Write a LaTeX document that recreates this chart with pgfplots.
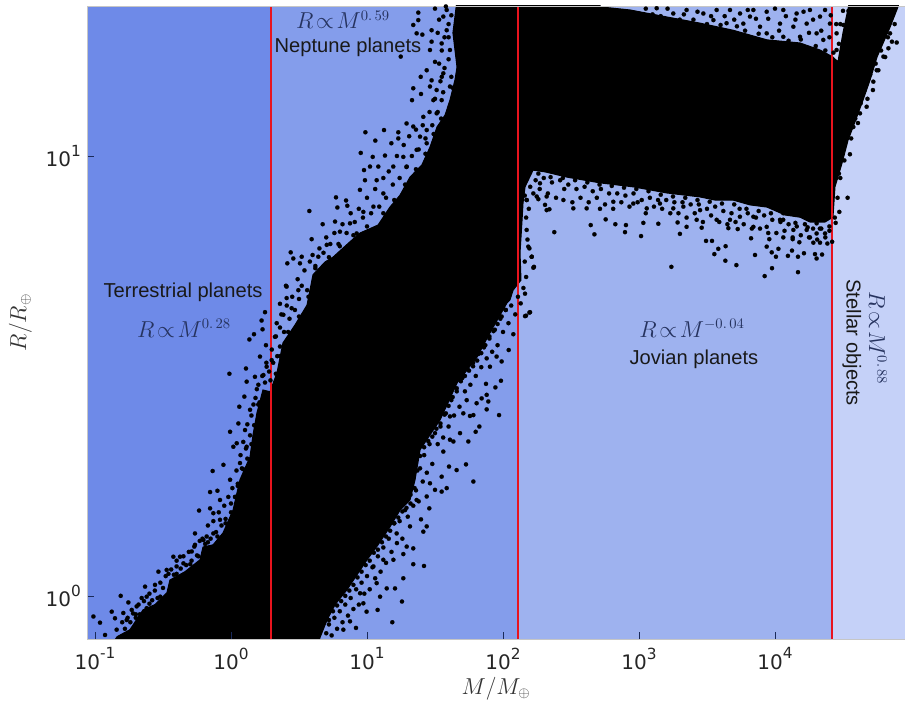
\documentclass[border=0pt]{standalone}
\usepackage{fontspec}
\usepackage{pgfplots}
\usepackage{pgfplotstable}
\pgfplotsset{compat=1.18}
\setmainfont{Liberation Sans}
\newfontfamily\tickfont{DejaVu Sans}
\newcommand{\tl}[1]{10\raisebox{0.52em}{\fontsize{11.5}{11.5}\selectfont #1}}
\definecolor{bgA}{HTML}{6E8AE8}
\definecolor{bgB}{HTML}{849DEB}
\definecolor{bgC}{HTML}{9EB2EF}
\definecolor{bgD}{HTML}{C5D1F8}
\definecolor{mathc}{HTML}{26335F}
\definecolor{tickc}{HTML}{1A2A5A}
\definecolor{redl}{HTML}{E8141E}
% log10(M), log10(R): solid cloud outline
\pgfplotstableread{
lx ly
-0.875 -0.111
-0.838 -0.093
-0.743 -0.077
-0.647 -0.032
-0.559 -0.020
-0.471 0.007
-0.449 0.036
-0.338 0.055
-0.228 0.082
-0.206 0.111
-0.132 0.116
-0.059 0.143
0.015 0.195
0.066 0.264
0.140 0.316
0.162 0.366
0.191 0.416
0.235 0.468
0.287 0.464
0.338 0.507
0.382 0.575
0.471 0.616
0.559 0.661
0.603 0.730
0.691 0.759
0.750 0.770
0.875 0.805
0.949 0.825
1.081 0.843
1.169 0.884
1.243 0.911
1.316 0.952
1.404 0.980
1.463 1.020
1.515 1.066
1.574 1.093
1.610 1.127
1.647 1.173
1.662 1.202
1.632 1.280
1.662 1.355
2.713 1.355
2.713 1.339
2.934 1.332
3.206 1.316
3.449 1.302
3.691 1.286
3.941 1.264
4.184 1.257
4.331 1.241
4.426 1.225
4.463 1.214
4.500 1.280
4.551 1.355
4.919 1.355
4.904 1.339
4.846 1.293
4.750 1.225
4.699 1.173
4.647 1.127
4.574 1.066
4.537 1.036
4.493 0.984
4.441 0.930
4.426 0.861
4.368 0.850
4.257 0.850
4.184 0.861
4.074 0.866
3.941 0.884
3.816 0.889
3.691 0.900
3.559 0.900
3.449 0.907
3.206 0.916
2.956 0.930
2.713 0.939
2.471 0.952
2.309 0.964
2.221 0.968
2.162 0.930
2.147 0.893
2.140 0.855
2.125 0.780
2.132 0.718
2.074 0.695
2.051 0.673
2.029 0.666
1.904 0.598
1.809 0.543
1.662 0.484
1.588 0.434
1.537 0.400
1.463 0.366
1.390 0.332
1.353 0.264
1.316 0.218
1.243 0.195
1.169 0.157
1.081 0.116
1.000 0.082
0.853 0.014
0.765 -0.020
0.706 -0.055
0.654 -0.095
0.640 -0.111
}\cloudoutline
% individual points at the fringe of the cloud
\pgfplotstableread[row sep=\\]{
lx ly\\
-0.926 -0.089\\ -0.963 -0.061\\ -1.012 -0.047\\ -0.877 -0.036\\ -0.853 -0.051\\ -0.811 0.000\\ -0.755 -0.015\\ -0.792 -0.039\\ -0.730 -0.032\\ -0.657 -0.005\\
-0.632 0.021\\ -0.559 0.025\\ -0.534 0.055\\ -0.424 0.089\\ -0.375 0.089\\ -0.400 0.067\\ -0.289 0.101\\ -0.235 0.194\\ -0.154 0.199\\ -0.154 0.236\\
-0.100 0.239\\ -0.081 0.218\\ -0.130 0.188\\ -0.265 0.142\\ -0.265 0.116\\ -0.179 0.135\\ -0.135 0.284\\ -0.056 0.298\\ -0.007 0.373\\ 0.054 0.392\\
0.061 0.430\\ 0.098 0.453\\ 0.115 0.487\\ 0.017 0.339\\ 0.042 0.347\\ 0.103 0.377\\ 0.140 0.423\\ 0.201 0.480\\ -0.081 0.173\\ -0.007 0.264\\
0.066 0.302\\ 0.115 0.339\\ -0.203 0.127\\ -0.130 0.142\\ -0.473 0.059\\ -0.350 0.074\\ -0.620 -0.002\\ -0.694 -0.024\\ -0.767 -0.055\\ -0.841 -0.077\\
0.439 0.781\\ 0.458 0.767\\ 0.414 0.756\\ 0.404 0.705\\ 0.495 0.695\\ 0.409 0.677\\ 0.360 0.664\\ 0.250 0.645\\ 0.225 0.626\\ 0.232 0.606\\
0.169 0.595\\ 0.135 0.583\\ 0.257 0.570\\ 0.213 0.544\\ 0.110 0.517\\ -0.012 0.505\\ 0.176 0.498\\ 0.238 0.502\\ 0.336 0.620\\ 0.385 0.639\\
0.446 0.654\\ 0.323 0.589\\ 0.360 0.567\\ 0.299 0.536\\ 0.262 0.521\\ 0.576 0.875\\ 0.593 0.811\\ 0.674 0.845\\ 0.772 0.906\\ 0.846 0.899\\
0.782 0.883\\ 0.855 0.887\\ 0.765 0.851\\ 0.988 1.054\\ 1.125 1.059\\ 1.061 1.035\\ 0.954 1.007\\ 1.042 0.998\\ 1.132 1.001\\ 1.179 1.029\\
1.230 1.054\\ 1.291 1.074\\ 1.340 1.067\\ 1.230 1.040\\ 0.978 0.968\\ 1.022 0.976\\ 1.083 0.976\\ 0.948 0.923\\ 0.985 0.945\\ 1.071 0.945\\
1.193 0.976\\ 1.267 0.998\\ 0.973 0.873\\ 1.047 0.885\\ 1.120 0.915\\ 0.875 0.847\\ 0.801 0.828\\ 0.924 0.824\\ 0.704 0.798\\ 0.642 0.771\\
0.507 0.756\\ 0.520 0.771\\ 0.409 0.703\\ 1.414 1.089\\ 1.331 1.127\\ 1.340 1.154\\ 1.395 1.180\\ 1.463 1.158\\ 1.397 1.141\\ 1.340 1.298\\
1.377 1.309\\ 1.377 1.326\\ 1.365 1.279\\ 1.407 1.276\\ 1.475 1.286\\ 1.475 1.260\\ 1.463 1.241\\ 1.500 1.214\\ 1.439 1.195\\ 1.475 1.172\\
1.512 1.150\\ 1.488 1.127\\ 1.512 1.097\\ 1.439 1.059\\ 1.390 1.044\\ 1.561 1.317\\ 1.586 1.286\\ 1.549 1.256\\ 1.610 1.241\\ 1.561 1.188\\
1.610 1.158\\ 1.549 1.127\\ 1.586 1.332\\ 1.248 1.226\\ 1.439 1.029\\ 1.365 1.014\\ 1.292 0.976\\ 2.211 0.771\\ 2.228 0.748\\ 2.186 0.794\\
2.174 0.832\\ 2.162 0.687\\ 2.272 0.938\\ 2.321 0.908\\ 2.321 0.877\\ 2.260 0.902\\ 2.223 0.915\\ 2.174 0.900\\ 2.194 0.644\\ 2.162 0.636\\
2.042 0.559\\ 2.076 0.595\\ 1.990 0.533\\ 1.985 0.489\\ 1.944 0.474\\ 1.875 0.482\\ 1.880 0.457\\ 1.843 0.449\\ 1.892 0.442\\ 1.880 0.424\\
1.971 0.411\\ 1.782 0.411\\ 1.757 0.409\\ 1.826 0.385\\ 1.799 0.373\\ 1.745 0.351\\ 1.635 0.351\\ 1.684 0.370\\ 1.728 0.299\\ 1.782 0.260\\
1.659 0.286\\ 1.603 0.294\\ 1.561 0.328\\ 1.549 0.271\\ 1.586 0.245\\ 1.549 0.237\\ 1.500 0.241\\ 1.458 0.199\\ 1.439 0.158\\ 1.397 0.174\\
1.414 0.146\\ 1.340 0.108\\ 1.340 0.072\\ 1.419 0.068\\ 1.267 0.095\\ 1.267 0.040\\ 1.206 0.017\\ 1.145 0.017\\ 1.257 -0.013\\ 1.078 -0.032\\
1.186 -0.060\\ 1.096 -0.002\\ 0.973 -0.017\\ 0.997 -0.036\\ 0.919 -0.073\\ 0.826 -0.077\\ 0.875 -0.058\\ 1.194 0.082\\ 1.120 0.082\\ 1.218 0.142\\
1.316 0.158\\ 1.292 0.112\\ 1.365 0.218\\ 1.439 0.226\\ 1.463 0.256\\ 1.610 0.355\\ 1.708 0.415\\ 1.806 0.438\\ 1.904 0.521\\ 1.953 0.544\\
1.733 0.445\\ 1.610 0.408\\ 1.047 0.067\\ 1.071 0.029\\ 0.949 0.006\\ 2.377 0.827\\ 2.645 0.843\\ 2.672 0.822\\ 2.755 0.856\\ 2.826 0.845\\
2.904 0.843\\ 2.897 0.827\\ 3.015 0.818\\ 3.032 0.848\\ 3.142 0.846\\ 3.284 0.849\\ 3.301 0.823\\ 3.350 0.839\\ 3.461 0.837\\ 3.493 0.807\\
3.537 0.807\\ 3.583 0.789\\ 3.554 0.777\\ 3.637 0.795\\ 3.635 0.762\\ 3.716 0.752\\ 3.238 0.748\\ 3.657 0.836\\ 3.726 0.834\\ 3.824 0.813\\
3.853 0.775\\ 3.924 0.727\\ 3.978 0.745\\ 3.939 0.794\\ 3.976 0.781\\ 4.007 0.771\\ 4.025 0.789\\ 3.958 0.811\\ 4.061 0.815\\ 4.130 0.811\\
4.095 0.773\\ 4.125 0.785\\ 4.179 0.804\\ 4.169 0.736\\ 4.169 0.771\\ 4.213 0.779\\ 4.294 0.777\\ 4.306 0.767\\ 4.346 0.776\\ 4.257 0.815\\
4.282 0.803\\ 4.331 0.803\\ 4.385 0.801\\ 4.534 0.905\\ 4.473 0.873\\ 4.446 0.848\\ 4.551 1.004\\ 4.478 1.006\\ 2.341 0.879\\ 2.444 0.900\\
2.309 0.889\\ 2.517 0.881\\ 2.615 0.881\\ 2.713 0.880\\ 2.811 0.896\\ 3.057 0.881\\ 3.252 0.881\\ 3.424 0.855\\ 3.571 0.855\\ 3.669 0.855\\
3.742 0.862\\ 3.841 0.839\\ 3.939 0.839\\ 4.037 0.855\\ 4.135 0.832\\ 4.233 0.832\\ 4.306 0.824\\ 4.368 0.824\\ 3.841 0.862\\ 4.061 0.870\\
4.184 0.877\\ 4.306 0.847\\ 3.449 0.877\\ 3.326 0.885\\ 3.154 0.892\\ 2.958 0.892\\ 2.248 0.908\\ 2.174 0.900\\ 2.211 0.771\\ 2.223 0.746\\
2.194 0.790\\ 2.169 0.637\\ 2.199 0.645\\ 2.762 1.332\\ 2.958 1.324\\ 3.130 1.336\\ 3.252 1.324\\ 3.350 1.332\\ 3.473 1.324\\ 3.571 1.332\\
3.669 1.332\\ 3.743 1.324\\ 3.841 1.332\\ 3.939 1.328\\ 4.061 1.332\\ 4.159 1.324\\ 4.257 1.332\\ 4.331 1.317\\ 4.368 1.332\\ 4.404 1.301\\
4.453 1.279\\ 4.502 1.298\\ 4.453 1.241\\ 3.547 1.309\\ 3.644 1.302\\ 3.767 1.301\\ 3.890 1.294\\ 4.037 1.301\\ 4.135 1.294\\ 4.233 1.301\\
4.306 1.279\\ 4.184 1.271\\ 4.061 1.271\\ 3.939 1.279\\ 3.816 1.317\\ 4.355 1.264\\ 4.895 1.258\\ 4.834 1.245\\ 4.748 1.195\\ 4.723 1.169\\
4.674 1.112\\ 4.625 1.097\\ 4.576 1.066\\ 4.797 1.226\\ 4.846 1.279\\
-0.80 -0.060\\ -0.78 -0.075\\ -0.76 -0.050\\ -0.74 -0.060\\ -0.72 -0.040\\ -0.70 -0.050\\ -0.68 -0.020\\ -0.67 -0.042\\ -0.64 -0.012\\ -0.62 -0.028\\
-0.60 0.005\\ -0.58 -0.010\\ -0.56 0.012\\ -0.54 -0.005\\ -0.52 0.030\\ -0.50 0.018\\ -0.48 0.045\\ -0.46 0.050\\ -0.44 0.060\\ -0.42 0.048\\
-0.40 0.080\\ -0.37 0.062\\ -0.35 0.090\\ -0.33 0.070\\ -0.31 0.100\\ -0.29 0.080\\ -0.27 0.112\\ -0.25 0.092\\ -0.23 0.125\\ -0.21 0.130\\
-0.19 0.118\\ -0.17 0.160\\ -0.15 0.130\\ -0.13 0.170\\ -0.11 0.145\\ -0.09 0.190\\ -0.07 0.160\\ -0.05 0.205\\ -0.04 0.175\\ -0.02 0.225\\
0.00 0.210\\ 0.01 0.245\\ 0.03 0.225\\ 0.04 0.285\\ 0.05 0.255\\ 0.07 0.320\\ 0.08 0.290\\ 0.09 0.350\\ 0.11 0.335\\ 0.12 0.390\\
0.14 0.365\\ 0.15 0.410\\ 0.165 0.435\\ 0.18 0.450\\ 0.19 0.470\\ 0.21 0.440\\ 0.23 0.500\\ 0.25 0.485\\ 0.26 0.530\\ 0.28 0.510\\
0.29 0.490\\ 0.30 0.560\\ 0.31 0.530\\ 0.33 0.590\\ 0.34 0.545\\ 0.36 0.610\\ 0.37 0.640\\ 0.39 0.600\\ 0.41 0.660\\ 0.43 0.630\\
0.45 0.680\\ 0.47 0.650\\ 0.49 0.720\\ 0.50 0.675\\ 0.52 0.705\\ 0.54 0.740\\ 0.56 0.695\\ 0.58 0.760\\ 0.60 0.775\\ 0.62 0.750\\
0.65 0.790\\ 0.68 0.780\\ 0.70 0.815\\ 0.73 0.800\\ 0.76 0.825\\ 0.79 0.800\\ 0.82 0.845\\ 0.85 0.825\\ 0.88 0.870\\ 0.91 0.850\\
0.94 0.880\\ 0.97 0.860\\ 1.00 0.905\\ 1.03 0.870\\ 1.06 0.925\\ 1.09 0.885\\ 1.12 0.950\\ 1.14 0.905\\ 1.16 0.965\\ 1.19 0.935\\
1.22 1.000\\ 1.24 0.950\\ 1.27 1.025\\ 1.29 0.975\\ 1.31 1.045\\ 1.33 1.000\\ 1.36 1.060\\ 1.38 1.015\\ 1.41 1.070\\ 1.43 1.040\\
1.46 1.100\\ 1.48 1.070\\ 1.50 1.130\\ 1.52 1.100\\ 1.54 1.170\\ 1.56 1.145\\ 1.53 1.210\\ 1.57 1.200\\ 1.55 1.240\\ 1.60 1.220\\
1.52 1.280\\ 1.57 1.270\\ 1.60 1.300\\ 1.53 1.310\\ 1.62 1.320\\ 1.58 1.340\\ 1.50 1.335\\ 1.55 1.180\\ 1.62 1.180\\ 1.60 1.270\\
0.70 -0.085\\ 0.72 -0.065\\ 0.74 -0.090\\ 0.76 -0.050\\ 0.78 -0.075\\ 0.80 -0.035\\ 0.82 -0.060\\ 0.84 -0.020\\ 0.86 -0.045\\ 0.88 -0.005\\
0.90 -0.030\\ 0.92 0.015\\ 0.94 -0.020\\ 0.96 0.030\\ 0.98 0.005\\ 1.00 0.045\\ 1.02 0.015\\ 1.04 0.065\\ 1.06 0.040\\ 1.08 0.090\\
1.10 0.055\\ 1.12 0.110\\ 1.14 0.075\\ 1.16 0.130\\ 1.18 0.100\\ 1.20 0.165\\ 1.22 0.120\\ 1.24 0.170\\ 1.26 0.130\\ 1.28 0.195\\
1.30 0.180\\ 1.32 0.230\\ 1.34 0.205\\ 1.36 0.240\\ 1.38 0.215\\ 1.39 0.290\\ 1.41 0.260\\ 1.42 0.320\\ 1.44 0.280\\ 1.46 0.345\\
1.48 0.300\\ 1.50 0.370\\ 1.52 0.345\\ 1.54 0.385\\ 1.56 0.360\\ 1.58 0.415\\ 1.60 0.385\\ 1.62 0.445\\ 1.64 0.410\\ 1.66 0.465\\
1.68 0.430\\ 1.70 0.495\\ 1.72 0.465\\ 1.74 0.515\\ 1.76 0.480\\ 1.78 0.530\\ 1.80 0.500\\ 1.82 0.550\\ 1.84 0.520\\ 1.86 0.565\\
1.88 0.540\\ 1.90 0.585\\ 1.92 0.555\\ 1.94 0.605\\ 1.96 0.570\\ 1.98 0.630\\ 2.00 0.600\\ 2.02 0.650\\ 2.04 0.620\\ 2.06 0.660\\
2.09 0.640\\ 2.11 0.680\\ 2.13 0.665\\ 2.15 0.700\\ 2.17 0.725\\ 2.16 0.760\\ 2.18 0.810\\ 2.17 0.860\\ 2.19 0.880\\ 2.16 0.910\\
2.20 0.930\\ 2.18 0.960\\
2.24 0.945\\ 2.27 0.925\\ 2.30 0.950\\ 2.33 0.915\\ 2.36 0.940\\ 2.39 0.905\\ 2.42 0.945\\ 2.45 0.925\\ 2.48 0.935\\ 2.51 0.895\\
2.54 0.925\\ 2.57 0.905\\ 2.60 0.930\\ 2.63 0.895\\ 2.66 0.920\\ 2.69 0.905\\ 2.72 0.925\\ 2.75 0.890\\ 2.78 0.915\\ 2.81 0.880\\
2.84 0.915\\ 2.87 0.895\\ 2.90 0.910\\ 2.93 0.885\\ 2.96 0.915\\ 2.99 0.895\\ 3.02 0.900\\ 3.05 0.870\\ 3.08 0.905\\ 3.11 0.885\\
3.14 0.900\\ 3.17 0.880\\ 3.20 0.900\\ 3.23 0.870\\ 3.26 0.895\\ 3.29 0.870\\ 3.32 0.895\\ 3.35 0.860\\ 3.38 0.890\\ 3.41 0.870\\
3.44 0.890\\ 3.47 0.850\\ 3.50 0.880\\ 3.53 0.865\\ 3.56 0.885\\ 3.59 0.850\\ 3.62 0.875\\ 3.65 0.845\\ 3.68 0.870\\ 3.71 0.850\\
3.74 0.880\\ 3.77 0.845\\ 3.80 0.870\\ 3.83 0.835\\ 3.86 0.860\\ 3.89 0.835\\ 3.92 0.865\\ 3.95 0.825\\ 3.98 0.855\\ 4.01 0.825\\
4.04 0.850\\ 4.07 0.830\\ 4.10 0.845\\ 4.13 0.815\\ 4.16 0.840\\ 4.19 0.820\\ 4.22 0.845\\ 4.25 0.815\\ 4.28 0.835\\ 4.31 0.810\\
4.34 0.835\\ 4.37 0.815\\ 4.40 0.830\\ 4.42 0.805\\ 4.44 0.860\\ 4.46 0.905\\ 4.48 0.950\\
3.00 1.320\\ 3.05 1.335\\ 3.10 1.322\\ 3.16 1.318\\ 3.21 1.335\\ 3.30 1.310\\ 3.33 1.322\\ 3.40 1.310\\ 3.43 1.328\\ 3.50 1.300\\
3.53 1.318\\ 3.60 1.298\\ 3.63 1.318\\ 3.70 1.310\\ 3.72 1.295\\ 3.78 1.285\\ 3.80 1.332\\ 3.86 1.312\\ 3.88 1.278\\ 3.95 1.312\\
3.98 1.270\\ 4.00 1.335\\ 4.03 1.285\\ 4.08 1.318\\ 4.10 1.262\\ 4.15 1.310\\ 4.19 1.265\\ 4.21 1.328\\ 4.25 1.280\\ 4.28 1.310\\
4.30 1.250\\ 4.34 1.285\\ 4.37 1.240\\ 4.40 1.270\\ 4.41 1.320\\ 4.43 1.235\\ 4.45 1.300\\ 4.47 1.255\\ 4.48 1.220\\ 4.50 1.240\\
4.88 1.300\\ 4.86 1.260\\ 4.83 1.270\\ 4.81 1.225\\ 4.78 1.240\\ 4.76 1.195\\ 4.74 1.210\\ 4.72 1.150\\ 4.70 1.185\\ 4.68 1.130\\
4.66 1.150\\ 4.63 1.120\\ 4.61 1.075\\ 4.59 1.085\\ 4.56 1.040\\ 4.53 1.060\\ 4.51 0.990\\ 4.49 1.005\\ 4.47 0.960\\ 4.45 0.950\\
4.50 1.330\\ 4.48 1.300\\ 4.52 1.240\\ 4.54 1.330\\
0.72 -0.055\\ 0.75 -0.035\\ 0.78 -0.022\\ 0.81 -0.012\\ 0.84 0.000\\ 0.87 0.012\\ 0.90 0.025\\ 0.93 0.042\\ 0.96 0.055\\ 0.99 0.070\\
1.02 0.080\\ 1.05 0.098\\ 1.08 0.105\\ 1.11 0.122\\ 1.14 0.135\\ 1.17 0.148\\ 1.20 0.165\\ 1.23 0.178\\ 1.26 0.192\\ 1.29 0.200\\
1.32 0.210\\ 1.35 0.245\\ 1.37 0.285\\ 1.39 0.318\\ 1.42 0.338\\ 1.45 0.352\\ 1.48 0.362\\ 1.51 0.380\\ 1.54 0.392\\ 1.57 0.412\\
1.60 0.432\\ 1.63 0.452\\ 1.66 0.472\\ 1.69 0.488\\ 1.72 0.500\\ 1.75 0.512\\ 1.78 0.522\\ 1.81 0.535\\ 1.84 0.552\\ 1.87 0.570\\
1.90 0.590\\ 1.93 0.602\\ 1.96 0.618\\ 1.99 0.635\\ 2.02 0.650\\
-0.70 -0.042\\ -0.60 -0.018\\ -0.52 -0.002\\ -0.40 0.050\\ -0.30 0.072\\ -0.24 0.090\\ -0.17 0.122\\ -0.10 0.135\\ -0.04 0.165\\ 0.00 0.190\\
0.03 0.225\\ 0.05 0.250\\ 0.09 0.288\\ 0.12 0.312\\ 0.15 0.345\\ 0.17 0.388\\ 0.20 0.435\\ 0.33 0.505\\ 0.36 0.545\\ 0.42 0.600\\
0.50 0.635\\ 0.57 0.680\\ 0.62 0.745\\ 0.72 0.770\\ 0.80 0.795\\ 0.90 0.820\\ 1.00 0.840\\ 1.12 0.870\\ 1.20 0.900\\ 1.28 0.935\\
1.36 0.970\\ 1.43 1.005\\ 1.49 1.050\\ 1.545 1.085\\ 1.63 1.155\\
2.26 0.960\\ 2.35 0.952\\ 2.44 0.950\\ 2.53 0.945\\ 2.62 0.940\\ 2.71 0.935\\ 2.80 0.932\\ 2.89 0.928\\ 2.98 0.925\\ 3.07 0.920\\
3.16 0.912\\ 3.25 0.908\\ 3.34 0.905\\ 3.43 0.900\\ 3.52 0.896\\ 3.61 0.892\\ 3.70 0.890\\ 3.79 0.880\\ 3.88 0.875\\ 3.97 0.870\\
4.06 0.855\\ 4.15 0.848\\ 4.24 0.838\\ 4.33 0.835\\ 4.40 0.840\\
}\clouddots
\begin{document}
\begin{tikzpicture}
\path[use as bounding box] (-65.25pt,-46.5pt) rectangle (613.5pt,479.25pt);
\begin{axis}[
  at={(0,0)},anchor=south west,
  scale only axis,width=613.5pt,height=474.75pt,
  xmode=log,ymode=log,log basis x=10,log basis y=10,
  xmin=0.0873,xmax=90365,ymin=0.798,ymax=21.93,
  tick pos=left,
  xtick={0.1,1,10,100,1000,10000},
  xticklabels={\tl{-1},\tl{0},\tl{1},\tl{2},\tl{3},\tl{4}},
  ytick={1,10},
  yticklabels={\tl{0},\tl{1}},
  ticklabel style={font=\tickfont\fontsize{15}{17}\selectfont,text=black!85},
  xticklabel style={yshift=-3pt},
  yticklabel style={xshift=-1pt},
  major tick length=5pt,minor tick length=3pt,
  tick style={color=tickc,line width=0.5pt},
  axis line style={draw=gray!45,line width=0.6pt},
  axis on top,
  xlabel={$M/M_\oplus$},ylabel={$R/R_\oplus$},
  label style={font=\fontsize{16}{18}\selectfont,text=black!80},
  xlabel style={yshift=1.5pt},
  ylabel style={yshift=3.5pt},
]
\addplot[fill=bgA,draw=none] coordinates {(0.0873,0.798)(1.97,0.798)(1.97,21.93)(0.0873,21.93)} -- cycle;
\addplot[fill=bgB,draw=none] coordinates {(1.97,0.798)(129,0.798)(129,21.93)(1.97,21.93)} -- cycle;
\addplot[fill=bgC,draw=none] coordinates {(129,0.798)(26200,0.798)(26200,21.93)(129,21.93)} -- cycle;
\addplot[fill=bgD,draw=none] coordinates {(26200,0.798)(90365,0.798)(90365,21.93)(26200,21.93)} -- cycle;
\addplot[fill=black,draw=black,line width=0.8pt] table[x expr=10^(\thisrow{lx}),y expr=10^(\thisrow{ly})] {\cloudoutline} -- cycle;
\addplot[only marks,mark=*,mark size=1.6pt,mark options={fill=black,draw=black,line width=0.1pt}] table[x expr=10^(\thisrow{lx}),y expr=10^(\thisrow{ly})] {\clouddots};
\addplot[redl,line width=2pt] coordinates {(1.97,0.798)(1.97,21.93)};
\addplot[redl,line width=2pt] coordinates {(129,0.798)(129,21.93)};
\addplot[redl,line width=2pt] coordinates {(26200,0.798)(26200,21.93)};
\tikzset{ann/.style={font=\fontsize{15.1}{18}\selectfont,text=black!90,inner sep=0pt},
  mth/.style={font=\fontsize{16}{18}\selectfont,text=mathc,inner sep=0pt}}
\node[ann] at (rel axis cs:0.1174,0.548) {Terrestrial planets};
\node[mth] at (rel axis cs:0.1186,0.491) {$R\!\propto\! M^{0.\,28}$};
\node[mth] at (rel axis cs:0.313,0.978) {$R\!\propto\! M^{0.\,59}$};
\node[ann] at (rel axis cs:0.319,0.935) {Neptune planets};
\node[mth] at (rel axis cs:0.7396,0.491) {$R\!\propto\! M^{-0.\,04}$};
\node[ann] at (rel axis cs:0.742,0.442) {Jovian planets};
\node[ann,rotate=-90] at (rel axis cs:0.935,0.468) {Stellar objects};
\node[mth,rotate=-90] at (rel axis cs:0.967,0.4755) {$R\!\propto\! M^{0.\,88}$};
\end{axis}
\end{tikzpicture}
\end{document}
